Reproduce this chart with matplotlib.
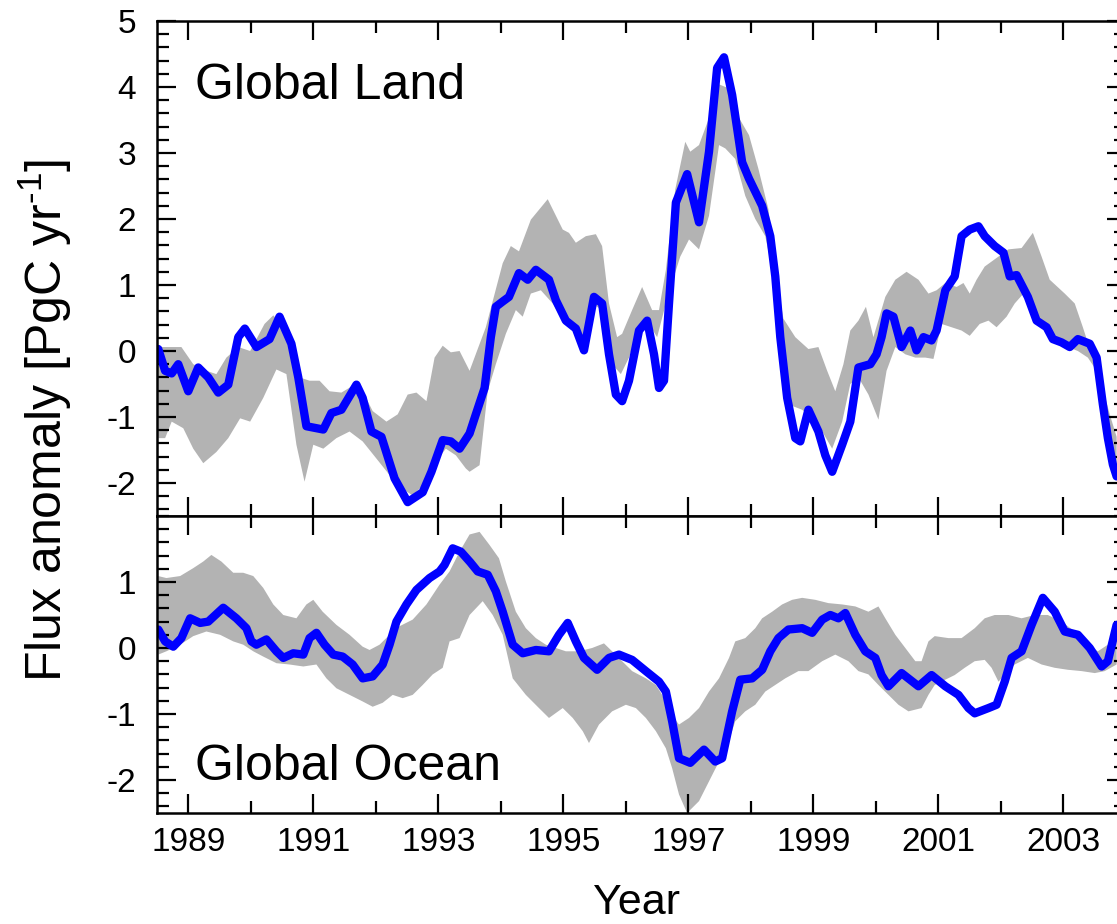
import matplotlib
matplotlib.use("Agg")
import matplotlib.pyplot as plt
from matplotlib.ticker import MultipleLocator, FixedLocator

plt.rcParams['font.family'] = ['Liberation Sans', 'DejaVu Sans']
plt.rcParams['mathtext.default'] = 'regular'

# ---- Global Land: model flux anomaly (PgC/yr) ----
land_year = [1988.52, 1988.63, 1988.735, 1988.84, 1989.00, 1989.16, 1989.32, 1989.48, 1989.64,
             1989.80, 1989.905, 1990.09, 1990.30, 1990.46, 1990.65, 1990.76, 1990.89, 1991.16,
             1991.29, 1991.45, 1991.69, 1991.79, 1991.93, 1992.09, 1992.30, 1992.51, 1992.75,
             1992.89, 1993.07, 1993.20, 1993.34, 1993.50, 1993.60, 1993.74, 1993.84, 1993.92,
             1994.03, 1994.13, 1994.29, 1994.43, 1994.56, 1994.77, 1994.88, 1995.04, 1995.20,
             1995.33, 1995.49, 1995.62, 1995.73, 1995.84, 1995.94, 1996.05, 1996.21, 1996.34,
             1996.45, 1996.53, 1996.61, 1996.69, 1996.80, 1996.98, 1997.17, 1997.33, 1997.46,
             1997.57, 1997.70, 1997.86, 1997.97, 1998.18, 1998.31, 1998.39, 1998.47, 1998.58,
             1998.71, 1998.79, 1998.92, 1999.08, 1999.19, 1999.30, 1999.46, 1999.59, 1999.72,
             1999.91, 2000.01, 2000.09, 2000.17, 2000.28, 2000.41, 2000.55, 2000.65, 2000.76,
             2000.89, 2000.97, 2001.11, 2001.26, 2001.37, 2001.50, 2001.64, 2001.74, 2001.90,
             2002.04, 2002.14, 2002.25, 2002.43, 2002.57, 2002.73, 2002.83, 2002.97, 2003.10,
             2003.23, 2003.42, 2003.53, 2003.63, 2003.71, 2003.79, 2003.85]
land_flux = [0.03, -0.30, -0.34, -0.20, -0.61, -0.25, -0.40, -0.63, -0.51,
             0.21, 0.34, 0.06, 0.18, 0.52, 0.11, -0.40, -1.14, -1.19,
             -0.94, -0.89, -0.51, -0.71, -1.22, -1.30, -1.93, -2.29, -2.14,
             -1.83, -1.35, -1.37, -1.48, -1.25, -0.96, -0.56, 0.21, 0.67,
             0.75, 0.82, 1.18, 1.08, 1.23, 1.08, 0.77, 0.46, 0.34,
             0.01, 0.82, 0.72, -0.05, -0.66, -0.76, -0.45, 0.31, 0.46,
             -0.05, -0.56, -0.45, 0.72, 2.25, 2.68, 1.95, 3.02, 4.29,
             4.45, 3.88, 2.86, 2.61, 2.20, 1.74, 1.13, 0.21, -0.71,
             -1.32, -1.37, -0.89, -1.22, -1.58, -1.83, -1.42, -1.07, -0.25,
             -0.20, -0.05, 0.21, 0.57, 0.52, 0.06, 0.31, 0.01, 0.21,
             0.16, 0.31, 0.92, 1.13, 1.74, 1.84, 1.89, 1.74, 1.59,
             1.49, 1.13, 1.15, 0.82, 0.46, 0.36, 0.18, 0.13, 0.06,
             0.18, 0.11, -0.10, -0.81, -1.32, -1.72, -1.90]

# Land uncertainty band: upper and lower envelopes
land_hi_year = [1988.52, 1988.89, 1989.08, 1989.29, 1989.45, 1989.61, 1989.80, 1989.99, 1990.22,
                1990.36, 1990.49, 1990.65, 1990.78, 1990.94, 1991.10, 1991.26, 1991.45, 1991.66,
                1991.79, 1991.95, 1992.17, 1992.35, 1992.51, 1992.65, 1992.81, 1992.94, 1993.07,
                1993.20, 1993.34, 1993.50, 1993.76, 1994.03, 1994.16, 1994.29, 1994.48, 1994.75,
                1994.99, 1995.09, 1995.20, 1995.36, 1995.52, 1995.62, 1995.73, 1995.86, 1995.94,
                1996.10, 1996.26, 1996.42, 1996.53, 1996.64, 1996.79, 1996.95, 1997.03, 1997.17,
                1997.33, 1997.49, 1997.62, 1997.75, 1997.97, 1998.12, 1998.28, 1998.39, 1998.52,
                1998.71, 1998.92, 1999.08, 1999.22, 1999.35, 1999.48, 1999.59, 1999.72, 1999.84,
                1999.96, 2000.15, 2000.31, 2000.49, 2000.68, 2000.84, 2000.97, 2001.11, 2001.29,
                2001.40, 2001.50, 2001.61, 2001.74, 2001.93, 2002.12, 2002.33, 2002.51, 2002.65,
                2002.78, 2003.02, 2003.18, 2003.31, 2003.45, 2003.61, 2003.74, 2003.85]
land_hi = [0.06, 0.06, -0.20, -0.30, -0.35, -0.10, 0.06, 0.00, 0.41,
           0.54, 0.41, 0.06, -0.40, -0.45, -0.45, -0.61, -0.63, -0.51,
           -0.61, -0.91, -1.07, -0.96, -0.66, -0.63, -0.76, -0.10, 0.08,
           -0.02, 0.00, -0.30, 0.36, 1.33, 1.59, 1.51, 1.99, 2.30,
           1.84, 1.79, 1.64, 1.74, 1.77, 1.59, 0.72, 0.21, 0.26,
           0.62, 0.97, 0.62, 0.62, 1.23, 2.45, 3.17, 3.02, 3.12,
           3.53, 4.04, 3.99, 3.63, 3.27, 2.76, 2.15, 1.23, 0.49,
           0.21, 0.03, 0.06, -0.30, -0.61, -0.20, 0.31, 0.46, 0.67,
           0.21, 0.82, 1.08, 1.20, 1.08, 0.87, 0.92, 1.03, 0.97,
           1.03, 0.87, 1.08, 1.28, 1.41, 1.54, 1.56, 1.79, 1.43,
           1.08, 0.87, 0.72, 0.36, -0.05, -0.50, -0.96, -1.30]
land_lo_year = [1988.52, 1988.63, 1988.735, 1988.92, 1989.08, 1989.24, 1989.45, 1989.64, 1989.83,
                1989.99, 1990.20, 1990.41, 1990.57, 1990.73, 1990.86, 1991.00, 1991.16, 1991.37,
                1991.58, 1991.79, 1992.01, 1992.22, 1992.43, 1992.59, 1992.81, 1992.96, 1993.12,
                1993.28, 1993.44, 1993.50, 1993.66, 1993.79, 1993.92, 1994.08, 1994.24, 1994.35,
                1994.48, 1994.64, 1994.83, 1994.99, 1995.15, 1995.30, 1995.46, 1995.62, 1995.78,
                1995.92, 1996.05, 1996.21, 1996.37, 1996.50, 1996.64, 1996.77, 1996.87, 1997.01,
                1997.17, 1997.33, 1997.49, 1997.59, 1997.75, 1997.91, 1998.07, 1998.23, 1998.34,
                1998.44, 1998.60, 1998.82, 1999.08, 1999.30, 1999.46, 1999.59, 1999.72, 1999.88,
                2000.04, 2000.17, 2000.31, 2000.47, 2000.63, 2000.79, 2000.92, 2001.05, 2001.21,
                2001.37, 2001.50, 2001.66, 2001.80, 2001.93, 2002.09, 2002.22, 2002.36, 2002.49,
                2002.65, 2002.86, 2003.07, 2003.23, 2003.39, 2003.53, 2003.66, 2003.85]
land_lo = [-1.32, -1.32, -1.07, -1.17, -1.48, -1.70, -1.53, -1.32, -1.02,
           -1.07, -0.71, -0.28, -0.35, -1.42, -1.98, -1.42, -1.48, -1.32,
           -1.22, -1.37, -1.63, -1.88, -2.09, -2.19, -1.98, -1.68, -1.48,
           -1.58, -1.78, -1.83, -1.73, -0.61, -0.20, 0.26, 0.62, 0.52,
           0.87, 0.92, 0.72, 0.46, 0.31, 0.01, 0.72, 0.62, -0.20,
           -0.35, -0.10, 0.36, 0.41, 0.21, 0.72, 1.13, 1.43, 1.69,
           1.54, 2.05, 3.12, 3.07, 2.91, 2.35, 2.00, 1.74, 1.23,
           0.21, -0.81, -0.89, -1.12, -1.48, -1.07, -0.50, -0.40, -0.66,
           -1.04, -0.30, 0.06, -0.05, -0.10, -0.10, -0.12, 0.41, 0.36,
           0.31, 0.23, 0.41, 0.46, 0.36, 0.52, 0.72, 0.87, 0.57,
           0.41, 0.21, 0.06, 0.00, -0.10, -0.30, -0.81, -1.80]

# ---- Global Ocean: model flux anomaly (PgC/yr) ----
ocean_year = [1988.52, 1988.63, 1988.76, 1988.89, 1989.03, 1989.19, 1989.32, 1989.56, 1989.77,
              1989.93, 1990.01, 1990.09, 1990.25, 1990.41, 1990.52, 1990.68, 1990.84, 1990.94,
              1991.05, 1991.18, 1991.32, 1991.47, 1991.63, 1991.79, 1991.95, 1992.11, 1992.22,
              1992.33, 1992.49, 1992.65, 1992.86, 1993.02, 1993.10, 1993.23, 1993.36, 1993.51,
              1993.63, 1993.79, 1993.92, 1994.03, 1994.19, 1994.35, 1994.56, 1994.77, 1994.93,
              1995.07, 1995.20, 1995.33, 1995.54, 1995.73, 1995.89, 1996.10, 1996.32, 1996.53,
              1996.64, 1996.74, 1996.85, 1997.03, 1997.25, 1997.43, 1997.54, 1997.70, 1997.83,
              1998.02, 1998.18, 1998.31, 1998.44, 1998.60, 1998.82, 1998.98, 1999.14, 1999.27,
              1999.40, 1999.51, 1999.67, 1999.83, 1999.99, 2000.09, 2000.20, 2000.41, 2000.68,
              2000.89, 2001.11, 2001.32, 2001.48, 2001.58, 2001.80, 2001.93, 2002.06, 2002.17,
              2002.33, 2002.49, 2002.67, 2002.86, 2003.02, 2003.23, 2003.42, 2003.61, 2003.71,
              2003.85]
ocean_flux = [0.28, 0.10, 0.02, 0.15, 0.45, 0.38, 0.40, 0.61, 0.45,
              0.30, 0.10, 0.05, 0.13, -0.05, -0.15, -0.08, -0.10, 0.15,
              0.23, 0.05, -0.10, -0.13, -0.25, -0.46, -0.43, -0.25, 0.05,
              0.40, 0.66, 0.88, 1.06, 1.16, 1.26, 1.51, 1.46, 1.30,
              1.16, 1.11, 0.86, 0.55, 0.05, -0.08, -0.03, -0.05, 0.20,
              0.38, 0.10, -0.15, -0.33, -0.15, -0.10, -0.18, -0.35, -0.51,
              -0.66, -1.11, -1.67, -1.74, -1.54, -1.72, -1.67, -0.96, -0.48,
              -0.46, -0.33, -0.05, 0.15, 0.28, 0.30, 0.23, 0.43, 0.50,
              0.45, 0.53, 0.20, -0.05, -0.15, -0.41, -0.58, -0.38, -0.58,
              -0.41, -0.58, -0.71, -0.91, -0.99, -0.91, -0.86, -0.51, -0.15,
              -0.05, 0.35, 0.76, 0.55, 0.25, 0.20, 0.00, -0.28, -0.20,
              0.35]

# Ocean uncertainty band: upper and lower envelopes
ocean_hi_year = [1988.52, 1988.65, 1988.87, 1989.08, 1989.24, 1989.37, 1989.53, 1989.72, 1989.88,
                 1990.04, 1990.20, 1990.36, 1990.52, 1990.73, 1990.89, 1991.00, 1991.15, 1991.37,
                 1991.58, 1991.79, 1991.90, 1992.06, 1992.22, 1992.38, 1992.59, 1992.81, 1993.02,
                 1993.18, 1993.34, 1993.50, 1993.66, 1993.82, 1993.97, 1994.08, 1994.24, 1994.40,
                 1994.56, 1994.72, 1994.88, 1995.04, 1995.25, 1995.46, 1995.65, 1995.78, 1995.94,
                 1996.10, 1996.32, 1996.48, 1996.58, 1996.69, 1996.85, 1997.01, 1997.17, 1997.33,
                 1997.49, 1997.65, 1997.75, 1997.91, 1998.07, 1998.18, 1998.34, 1998.50, 1998.66,
                 1998.82, 1999.03, 1999.24, 1999.46, 1999.67, 1999.88, 2000.04, 2000.15, 2000.31,
                 2000.47, 2000.63, 2000.73, 2000.84, 2000.94, 2001.16, 2001.37, 2001.58, 2001.74,
                 2001.90, 2002.12, 2002.33, 2002.54, 2002.75, 2002.97, 2003.18, 2003.39, 2003.55,
                 2003.71, 2003.85]
ocean_hi = [1.09, 1.06, 1.09, 1.21, 1.31, 1.41, 1.31, 1.14, 1.14,
            1.09, 0.91, 0.66, 0.50, 0.45, 0.66, 0.73, 0.55, 0.35,
            0.20, 0.02, -0.03, 0.05, 0.20, 0.33, 0.43, 0.66, 0.96,
            1.16, 1.46, 1.72, 1.76, 1.56, 1.36, 1.01, 0.55, 0.30,
            0.15, 0.05, 0.00, -0.05, -0.05, 0.00, 0.07, -0.05, -0.20,
            -0.35, -0.46, -0.56, -0.71, -0.96, -1.16, -1.06, -0.91, -0.66,
            -0.46, -0.15, 0.10, 0.15, 0.30, 0.45, 0.55, 0.66, 0.73,
            0.76, 0.73, 0.68, 0.66, 0.63, 0.55, 0.63, 0.45, 0.20,
            0.00, -0.20, -0.20, 0.10, 0.18, 0.15, 0.15, 0.30, 0.45,
            0.50, 0.50, 0.45, 0.50, 0.50, 0.40, 0.25, 0.05, -0.05,
            0.05, 0.22]
ocean_lo_year = [1988.52, 1988.65, 1988.87, 1989.08, 1989.29, 1989.51, 1989.72, 1989.88, 1990.04,
                 1990.20, 1990.41, 1990.62, 1990.84, 1991.05, 1991.21, 1991.37, 1991.58, 1991.79,
                 1991.95, 1992.11, 1992.27, 1992.43, 1992.59, 1992.75, 1992.91, 1993.07, 1993.18,
                 1993.34, 1993.50, 1993.71, 1993.87, 1994.03, 1994.19, 1994.40, 1994.61, 1994.77,
                 1994.99, 1995.15, 1995.31, 1995.41, 1995.57, 1995.78, 1996.00, 1996.16, 1996.32,
                 1996.48, 1996.64, 1996.74, 1996.85, 1996.98, 1997.17, 1997.33, 1997.49, 1997.59,
                 1997.75, 1997.91, 1998.07, 1998.23, 1998.39, 1998.55, 1998.76, 1998.92, 1999.14,
                 1999.35, 1999.56, 1999.72, 1999.88, 2000.04, 2000.20, 2000.36, 2000.52, 2000.73,
                 2000.84, 2000.94, 2001.11, 2001.26, 2001.42, 2001.58, 2001.74, 2001.85, 2001.96,
                 2002.06, 2002.22, 2002.43, 2002.65, 2002.86, 2003.07, 2003.29, 2003.50, 2003.66,
                 2003.85]
ocean_lo = [-0.10, -0.05, 0.05, 0.18, 0.25, 0.20, 0.10, 0.05, -0.05,
            -0.13, -0.23, -0.25, -0.28, -0.25, -0.46, -0.61, -0.71, -0.81,
            -0.89, -0.83, -0.71, -0.76, -0.71, -0.56, -0.40, -0.30, 0.10,
            0.15, 0.50, 0.71, 0.50, 0.20, -0.46, -0.71, -0.91, -1.06,
            -0.91, -1.06, -1.26, -1.44, -1.16, -0.96, -0.86, -0.91, -1.06,
            -1.26, -1.52, -1.82, -2.22, -2.50, -2.32, -2.02, -1.72, -1.57,
            -1.11, -0.96, -0.86, -0.66, -0.56, -0.46, -0.35, -0.35, -0.20,
            -0.10, -0.20, -0.35, -0.40, -0.56, -0.71, -0.86, -0.96, -0.91,
            -0.71, -0.56, -0.48, -0.41, -0.30, -0.20, -0.18, -0.30, -0.51,
            -0.41, -0.25, -0.15, -0.25, -0.30, -0.33, -0.35, -0.38, -0.35,
            -0.25]

year_major = [1989, 1991, 1993, 1995, 1997, 1999, 2001, 2003]
year_minor = [1990, 1992, 1994, 1996, 1998, 2000, 2002]

BAND = '#b3b3b3'
LINE = '#0000ff'

W, H = 1117, 924
fig = plt.figure(figsize=(W / 100, H / 100), dpi=100)
left, right = 157 / W, 1126 / W
y_top, y_mid, y_bot = 21, 516, 813
ax_land = fig.add_axes([left, 1 - y_mid / H, right - left, (y_mid - y_top) / H])
ax_ocean = fig.add_axes([left, 1 - y_bot / H, right - left, (y_bot - y_mid) / H])


def draw_panel(ax, yr, val, hy, hv, ly, lv, ylim, yticks):
    ax.fill(list(hy) + list(ly[::-1]), list(hv) + list(lv[::-1]),
            color=BAND, lw=0, zorder=1)
    ax.plot(yr, val, color=LINE, lw=6, solid_capstyle='round',
            solid_joinstyle='round', zorder=2)
    ax.set_xlim(1988.5, 2004.0)
    ax.set_ylim(*ylim)
    ax.xaxis.set_major_locator(FixedLocator(year_major))
    ax.xaxis.set_minor_locator(FixedLocator(year_minor))
    ax.yaxis.set_major_locator(FixedLocator(yticks))
    ax.yaxis.set_minor_locator(MultipleLocator(0.2))
    ax.tick_params(which='both', direction='in', top=True, right=True,
                   width=1.6, color='black')
    ax.tick_params(which='major', length=14)
    ax.tick_params(which='minor', length=8.5)
    ax.tick_params(axis='y', labelsize=24, pad=15)
    ax.tick_params(axis='x', labelsize=24, pad=10)
    ax.set_yticklabels([f'{t:g}' for t in yticks])
    for s in ax.spines.values():
        s.set_linewidth(1.8)


draw_panel(ax_land, land_year, land_flux, land_hi_year, land_hi, land_lo_year, land_lo,
           (-2.5, 5.0), [-2, -1, 0, 1, 2, 3, 4, 5])
draw_panel(ax_ocean, ocean_year, ocean_flux, ocean_hi_year, ocean_hi, ocean_lo_year, ocean_lo,
           (-2.5, 2.0), [-2, -1, 0, 1])

ax_land.tick_params(axis='x', labelbottom=False)
ax_ocean.set_xticklabels([str(y) for y in year_major])

ax_land.text(0.039, 0.842, 'Global Land', transform=ax_land.transAxes,
             fontsize=36, va='baseline', ha='left')
ax_ocean.text(0.039, 0.111, 'Global Ocean', transform=ax_ocean.transAxes,
              fontsize=36, va='baseline', ha='left')

fig.text(45 / W, 1 - 420 / H, 'Flux anomaly [PgC yr$^{\u2010 1}$]', rotation=90,
         fontsize=36, ha='center', va='center')
fig.text(636 / W, 1 - 903 / H, 'Year', fontsize=31, ha='center', va='center')

fig.savefig('out.png', dpi=100)
